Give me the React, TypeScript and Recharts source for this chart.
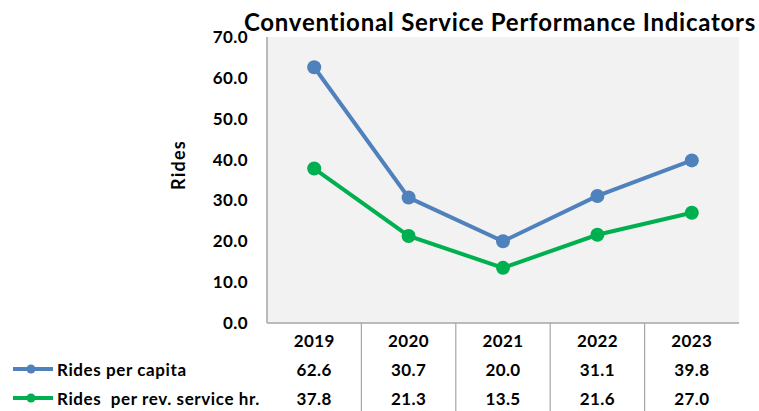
import React from "react";
import {
  LineChart,
  Line,
  XAxis,
  YAxis,
  CartesianGrid,
  Customized,
} from "recharts";

/* =======================
   Data
======================= */
const years = ["2019", "2020", "2021", "2022", "2023"];
const ridesPerCapita = [62.6, 30.7, 20.0, 31.1, 39.8];
const ridesPerRevHour = [37.8, 21.3, 13.5, 21.6, 27.0];
const yTicks = [0, 10, 20, 30, 40, 50, 60, 70];

const seriesNames = ["Rides per capita", "Rides  per rev. service hr."];
const BLUE = "#4f81bd";
const GREEN = "#00b050";
const GRID = "#a6a6a6";
const FONT = "Lato, 'Open Sans', sans-serif";

const chartData = years.map((year, i) => ({
  year,
  perCapita: ridesPerCapita[i],
  perHour: ridesPerRevHour[i],
}));

const HALF_BAND = 47.2;

const textStyle = {
  fontFamily: FONT,
  fontWeight: "bold" as const,
  fontSize: 17,
  letterSpacing: 0.4,
};

/* =======================
   Data table under the x axis
======================= */
const TableTick = (props: any) => {
  const { x, index, payload } = props;
  const top = 323;
  const i = index as number;
  const rows = [ridesPerCapita[i], ridesPerRevHour[i]];
  const colors = [BLUE, GREEN];
  return (
    <g>
      {i > 0 && (
        <line
          x1={x - HALF_BAND}
          x2={x - HALF_BAND}
          y1={top}
          y2={411}
          stroke={GRID}
          strokeWidth={1.2}
        />
      )}
      <text
        x={x}
        y={top + 17}
        textAnchor="middle"
        dominantBaseline="central"
        fill="#000"
        style={textStyle}
      >
        {payload.value}
      </text>
      {rows.map((v, r) => (
        <text
          key={r}
          x={x}
          y={top + 46 + r * 29}
          textAnchor="middle"
          dominantBaseline="central"
          fill="#000"
          style={textStyle}
        >
          {v.toFixed(1)}
        </text>
      ))}
      {i === 0 &&
        seriesNames.map((name, r) => (
          <g key={name}>
            <line
              x1={13}
              x2={53}
              y1={top + 46 + r * 29}
              y2={top + 46 + r * 29}
              stroke={colors[r]}
              strokeWidth={4}
            />
            <circle cx={31} cy={top + 46 + r * 29} r={4.5} fill={colors[r]} />
            <text
              x={57}
              y={top + 46 + r * 29}
              dominantBaseline="central"
              fill="#000"
              style={{ ...textStyle, letterSpacing: 0.6, whiteSpace: "pre" }}
            >
              {name}
            </text>
          </g>
        ))}
    </g>
  );
};

/* =======================
   Title + axis label
======================= */
const Titles = () => (
  <g>
    <text
      x={500}
      y={21}
      textAnchor="middle"
      dominantBaseline="central"
      fill="#000"
      style={{
        fontFamily: FONT,
        fontWeight: "bold",
        fontSize: 24,
        letterSpacing: 0.75,
      }}
    >
      Conventional Service Performance Indicators
    </text>
    <text
      x={178}
      y={165}
      transform="rotate(-90 178 165)"
      textAnchor="middle"
      dominantBaseline="central"
      fill="#000"
      style={{
        fontFamily: FONT,
        fontWeight: "bold",
        fontSize: 18,
        letterSpacing: 1.2,
      }}
    >
      Rides
    </text>
  </g>
);

/* =======================
   Component
======================= */
export default function App() {
  return (
    <div style={{ position: "absolute", left: 0, top: 0, background: "#fff" }}>
      <LineChart
        width={759}
        height={411}
        data={chartData}
        margin={{ top: 37, right: 20, bottom: 0, left: 207 }}
      >
        <CartesianGrid
          horizontal={false}
          vertical={false}
          fill="#f2f2f2"
          stroke="none"
        />
        <XAxis
          dataKey="year"
          padding={{ left: HALF_BAND, right: HALF_BAND }}
          height={88}
          axisLine={{ stroke: GRID, strokeWidth: 1.5 }}
          tickLine={false}
          tickSize={0}
          tickMargin={0}
          interval={0}
          tick={<TableTick />}
        />
        <YAxis
          width={60}
          domain={[0, 70]}
          ticks={yTicks}
          interval={0}
          tickFormatter={(v: number) => v.toFixed(1)}
          axisLine={{ stroke: GRID, strokeWidth: 1.5 }}
          tickLine={false}
          tickMargin={13}
          tick={{ fill: "#000", ...textStyle }}
        />
        <Line
          dataKey="perCapita"
          name={seriesNames[0]}
          stroke={BLUE}
          strokeWidth={4}
          dot={{ r: 7, fill: BLUE, stroke: BLUE, strokeWidth: 0 }}
          isAnimationActive={false}
        />
        <Line
          dataKey="perHour"
          name={seriesNames[1]}
          stroke={GREEN}
          strokeWidth={4}
          dot={{ r: 7, fill: GREEN, stroke: GREEN, strokeWidth: 0 }}
          isAnimationActive={false}
        />
        <Customized component={Titles} />
      </LineChart>
    </div>
  );
}
